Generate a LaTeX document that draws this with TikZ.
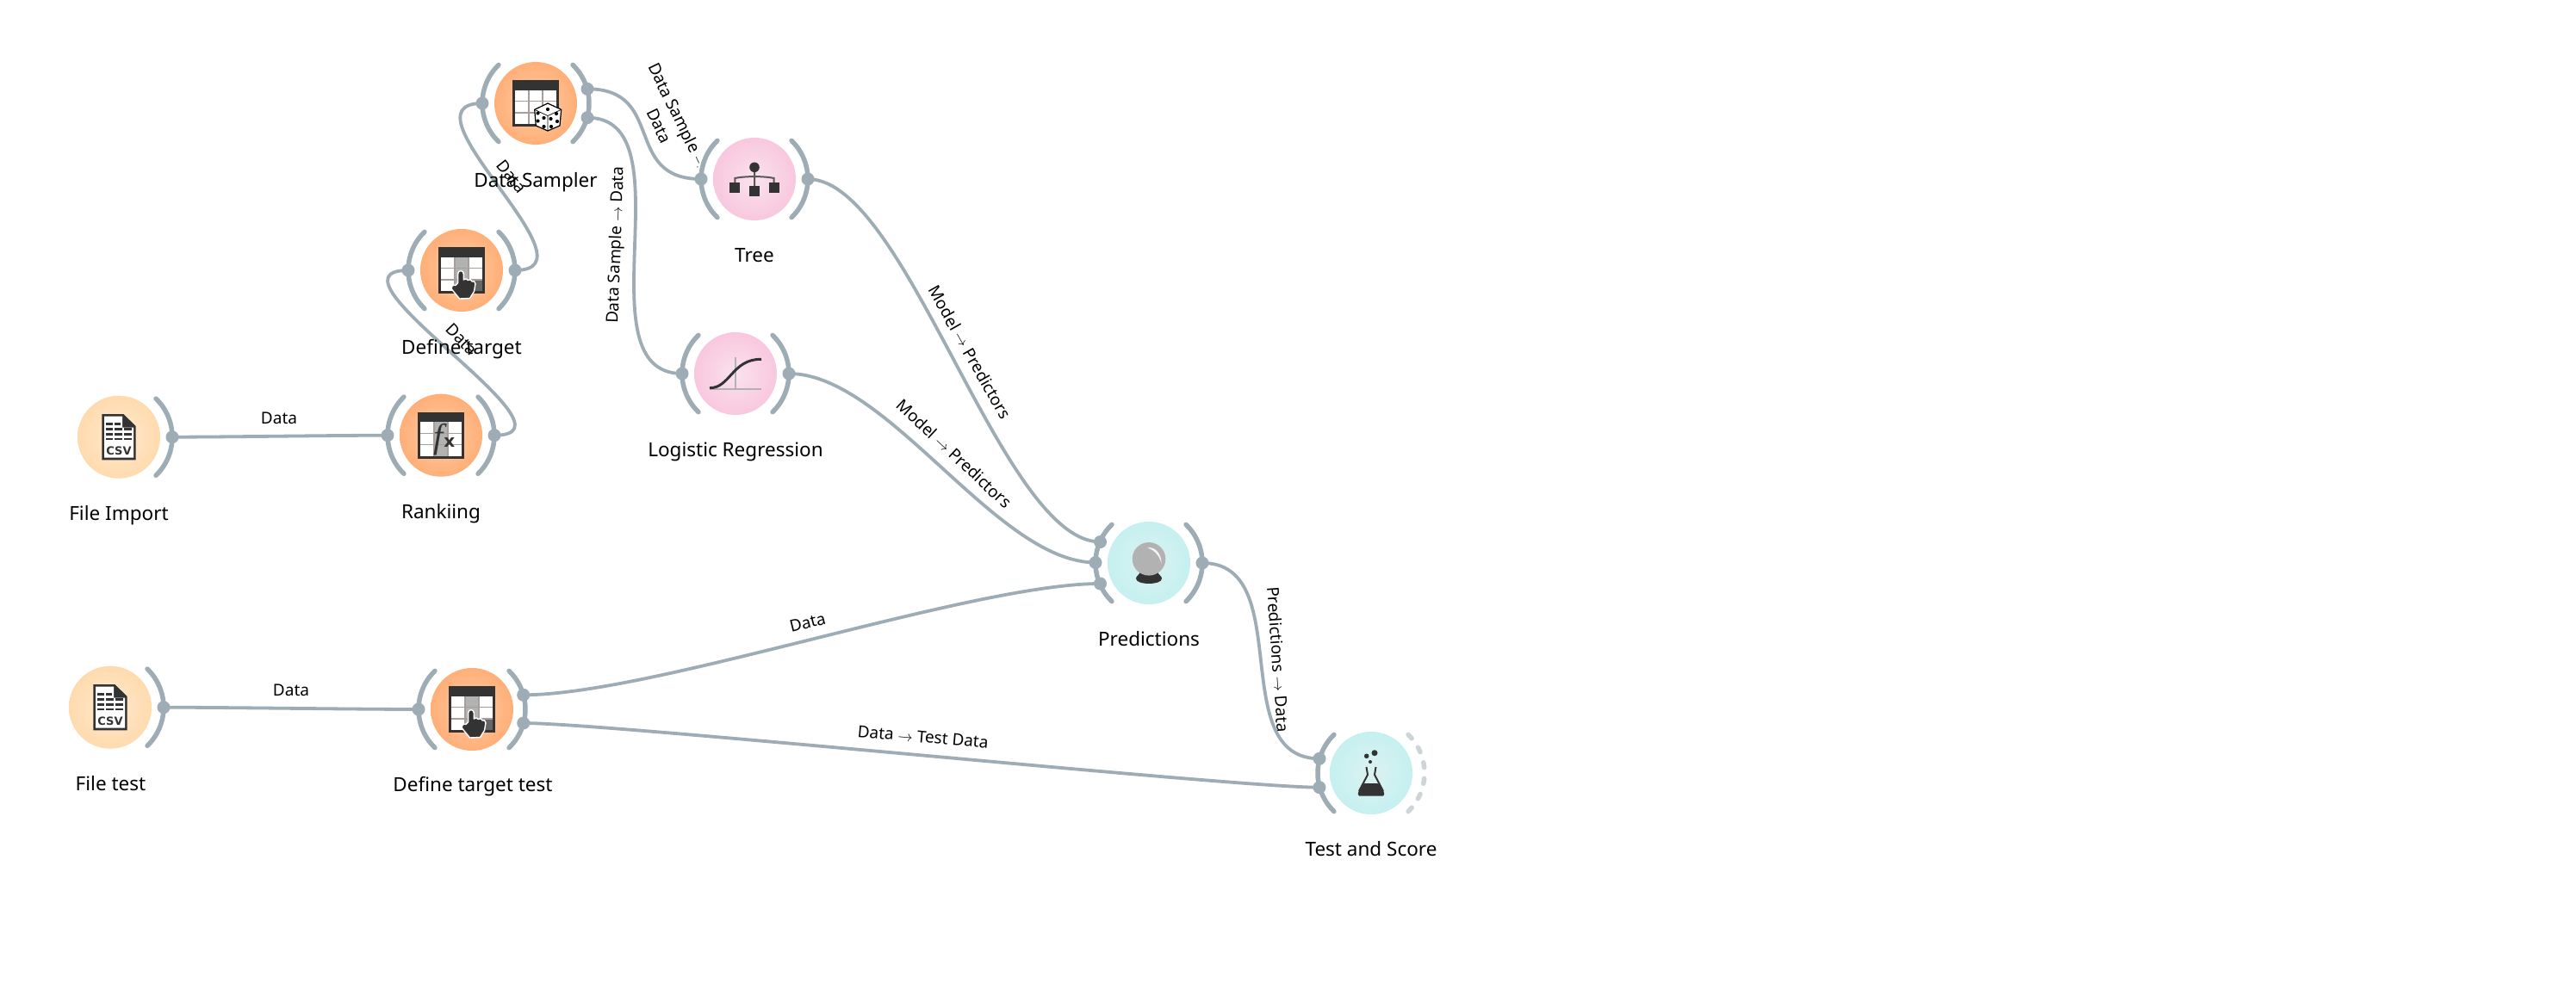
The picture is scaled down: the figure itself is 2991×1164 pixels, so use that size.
\documentclass[tikz,border=0pt]{standalone}
\usepackage{fontspec}
\setmainfont{Noto Sans}
\newfontfamily\fserif{Liberation Serif}
\newfontfamily\bsans{DejaVu Sans}
\usetikzlibrary{calc}
\definecolor{linkc}{HTML}{9EADB5}
\definecolor{dashc}{HTML}{CED5D9}
\definecolor{icondark}{HTML}{333333}
\definecolor{grayc}{HTML}{B2B2B2}
\definecolor{gridc}{HTML}{A89D98}
\definecolor{oc}{RGB}{255,204,165}\definecolor{oe}{RGB}{255,160,96}
\definecolor{lc}{RGB}{255,234,208}\definecolor{le}{RGB}{255,210,156}
\definecolor{pc}{RGB}{250,226,237}\definecolor{pe}{RGB}{248,186,214}
\definecolor{tc}{RGB}{220,241,241}\definecolor{te}{RGB}{186,240,240}
\pgfdeclareradialshading{orangeglow}{\pgfpointorigin}{color(0bp)=(oc);color(38bp)=(oe);color(50bp)=(oe)}
\pgfdeclareradialshading{lightglow}{\pgfpointorigin}{color(0bp)=(lc);color(38bp)=(le);color(50bp)=(le)}
\pgfdeclareradialshading{pinkglow}{\pgfpointorigin}{color(0bp)=(pc);color(38bp)=(pe);color(50bp)=(pe)}
\pgfdeclareradialshading{tealglow}{\pgfpointorigin}{color(0bp)=(tc);color(38bp)=(te);color(50bp)=(te)}
\tikzset{
  disc/.style={circle,minimum size=96pt,inner sep=0pt,outer sep=0pt,shade,shading=#1},
  arcline/.style={draw=linkc,line width=5.5pt,line cap=round},
  dashline/.style={draw=dashc,line width=5.5pt,line cap=round,dash pattern=on 6pt off 12.7pt},
  dot/.style={circle,fill=linkc,minimum size=15pt,inner sep=0pt,outer sep=0pt},
  link/.style={draw=linkc,line width=3.8pt},
  wlabel/.style={font=\fontsize{22.5}{27}\selectfont,inner sep=0pt,text=black},
  llabel/.style={font=\fontsize{19}{25}\selectfont,inner sep=0pt,text=black,align=center},
}
% icons, drawn around the centre of a disc
\newcommand{\tablebase}[1]{%
  \fill[icondark] (-27,-27) rectangle (27,27);
  \fill[white] (-24,-15.5) rectangle (24,24);
  #1
  \draw[gridc,line width=1.2pt] (-8,-15.5) -- (-8,24) (8,-15.5) -- (8,24)
     (-24,-2.3) -- (24,-2.3) (-24,11) -- (24,11);
}
\newcommand{\handicon}{%
  \draw[white,fill=icondark,line width=1.4pt,line join=round]
   (-4.3,14.5) -- (-4.3,4) .. controls (-4.3,-0.5) and (2.3,-0.5) .. (2.3,4)
   -- (2.3,11) .. controls (4,9.5) and (6.5,9.5) .. (7.3,11.5)
   .. controls (9,10) and (11.5,10.5) .. (12,12.8)
   .. controls (13.5,12) and (16,13) .. (16,15.5)
   -- (14.5,24.5) -- (9.5,32.5) -- (-2.5,33) -- (-11.5,22)
   .. controls (-12.5,19) and (-10,16) .. (-7,17.5) -- cycle;
}
\newcommand{\targeticon}{%
  \tablebase{\fill[grayc] (-8,-15.5) rectangle (8,24); \fill[black!60] (8,11) rectangle (24,24);}
  \handicon
}
\newcommand{\diceicon}{%
  \tablebase{}
  \draw[black,fill=white,line width=1.2pt,line join=round]
    (14,0) -- (29.7,7.3) -- (28,26) -- (14,32) -- (0.3,26) -- (-1.3,7.3) -- cycle;
  \draw[black,line width=.7pt] (-1.3,7.3) -- (14,14.5) -- (29.7,7.3) (14,14.5) -- (14,32);
  \foreach \p in {(14,7),(2.5,11.5),(9.5,17),(2.5,20.5),(9.5,27),(24,12),(17.5,18),(25,21),(18,27)}
    \fill[black] \p circle (2.1);
}
\newcommand{\fxicon}{%
  \tablebase{\fill[grayc] (-8,-15.5) rectangle (8,24);}
  \node[inner sep=0pt,text=icondark,font=\fserif\itshape\fontsize{40}{40}\selectfont] (fxf) at (-2.5,5) {f};
  \node[inner sep=0pt,text=icondark,font=\bsans\bfseries\fontsize{20}{20}\selectfont] (fxx) at (9.8,8.5) {x};
}
\newcommand{\csvicon}{%
  \fill[icondark] (-19.7,-26.7) -- (5.3,-26.7) -- (19.7,-12.7) -- (19.7,26.7) -- (-19.7,26.7) -- cycle;
  \fill[white] (-17,-24) -- (4,-24) -- (4,-11) -- (17,-11) -- (17,24) -- (-17,24) -- cycle;
  \foreach \yy in {-9.3,-3.3,2.3}{
    \fill[icondark] (-14.7,\yy-1.4) rectangle (-7.3,\yy+1.4);
    \fill[icondark] (-4.7,\yy-1.4) rectangle (3.7,\yy+1.4);
    \fill[icondark] (6.3,\yy-1.4) rectangle (14.7,\yy+1.4);
  }
  \fill[icondark] (-14.7,-16.4) rectangle (-7.3,-13.6);
  \fill[icondark] (-4.7,-16.4) rectangle (2,-13.6);
  \node[inner sep=0pt,text=icondark,font=\bsans\bfseries\fontsize{13}{13}\selectfont] (csvt) at (0,15.7) {CSV};
}
\newcommand{\treeicon}{%
  \draw[black!65,line width=2pt] (0,-10) -- (0,10) (-22.7,6) -- (-22.7,-1) .. controls (-12,-3.5) and (12,-3.5) .. (22.7,-1) -- (22.7,6);
  \fill[icondark] (0,-13.7) circle (5.8);
  \fill[icondark] (-28.7,4.3) rectangle (-16.7,16.3);
  \fill[icondark] (-6,8) rectangle (6,19.5);
  \fill[icondark] (16.7,4.3) rectangle (28.7,16.3);
}
\newcommand{\logisticicon}{%
  \draw[grayc,line width=2.6pt] (0,-19) -- (0,18) (-30,18) -- (30,18);
  \draw[icondark,line width=3pt] (-30,16.7) .. controls (-6,16.7) and (-4,-17) .. (30,-16.7);
}
\newcommand{\ballicon}{%
  \fill[icondark] (-15,18) .. controls (-15,15) and (-11,14) .. (-10,10) -- (10,10)
     .. controls (11,14) and (15,15) .. (15,18) .. controls (15,26) and (-15,26) .. (-15,18) -- cycle;
  \fill[grayc] (0,-4.7) circle (19.3);
  \fill[white,opacity=.85] (-2,-18) .. controls (8,-19) and (15,-10) .. (14.5,1) .. controls (13,-7) and (8,-14) .. cycle;
}
\newcommand{\flaskicon}{%
  \fill[icondark] (4,-23.3) circle (3.5);
  \fill[icondark] (-5.3,-19.7) circle (2.8);
  \fill[icondark] (-1,-13) circle (2);
  \draw[icondark,line width=2pt,line join=round] (-5.5,-7) -- (-4,2) -- (-14,21) (5.5,-7) -- (4,2) -- (14,21);
  \fill[icondark,rounded corners=1.5pt] (-15.3,26.5) -- (-15,22) -- (-9,12) -- (9,12) -- (15,22) -- (15.3,26.5) -- cycle;
}
\newcommand{\widget}[4]{% name, x, y, shading
  \node[disc=#4] (#1) at (#2,#3) {};
}
\newcommand{\leftarc}[1]{\draw[arcline] ($(#1)+(134:62)$) arc (134:226:62);}
\newcommand{\rightarc}[1]{\draw[arcline] ($(#1)+(46:62)$) arc (46:-46:62);}
\begin{document}
\begin{tikzpicture}[x=1pt,y=-1pt]
\useasboundingbox (0,0) rectangle (2991,1164);
\fill[white] (0,0) rectangle (2991,1164);
% link labels
\node[llabel] (l1) at (324,486) {Data};
\node[llabel] (l2) at (338,802.3) {Data};
\node[llabel,rotate=14] (l3) at (937.7,723.3) {Data};
\node[llabel,rotate=-5] (l4) at (1071.7,856) {Data $\rightarrow$ Test Data};
\node[llabel,rotate=-86] (l5) at (1484.3,766) {Predictions $\rightarrow$ Data};
\node[llabel,rotate=88] (l6) at (716,284.7) {Data Sample $\rightarrow$ Data};
\node[llabel,rotate=-64] (l7) at (777,140.5) {Data Sample $\rightarrow$\\Data};
\node[llabel,rotate=-52] (l8) at (594,205) {Data};
\node[llabel,rotate=-46] (l9) at (536,394) {Data};
\node[llabel,rotate=-60.5] (l10) at (1126,409) {Model $\rightarrow$ Predictors};
\node[llabel,rotate=-43] (l11) at (1108,527) {Model $\rightarrow$ Predictors};
% clearance round the Tree widget
\fill[white] (876,208) circle (67);
% discs
\widget{fimp}{138}{507.7}{lightglow}
\widget{rank}{512}{505.7}{orangeglow}
\widget{dtar}{536}{314}{orangeglow}
\widget{samp}{622}{120}{orangeglow}
\widget{tree}{876}{208}{pinkglow}
\widget{logr}{854}{434}{pinkglow}
\widget{ftst}{128}{821.7}{lightglow}
\widget{dtst}{548}{824}{orangeglow}
\widget{pred}{1334}{654}{tealglow}
\widget{tscr}{1592}{898}{tealglow}
% channel arcs
\rightarc{fimp}
\leftarc{rank}\rightarc{rank}
\leftarc{dtar}\rightarc{dtar}
\leftarc{samp}\rightarc{samp}
\leftarc{tree}\rightarc{tree}
\leftarc{logr}\rightarc{logr}
\rightarc{ftst}
\leftarc{dtst}\rightarc{dtst}
\leftarc{pred}\rightarc{pred}
\leftarc{tscr}
\draw[dashline] ($(tscr)+(46:62)$) arc (46:-46:62);
% anchors
\node[dot] (fimpR) at (200,507.7) {};
\node[dot] (rankL) at (450,505.7) {};
\node[dot] (rankR) at (574,505.7) {};
\node[dot] (dtarL) at (474,314) {};
\node[dot] (dtarR) at (598,314) {};
\node[dot] (sampL) at (560,120) {};
\node[dot] (sampR1) at (682,103.3) {};
\node[dot] (sampR2) at (682,136.7) {};
\node[dot] (treeL) at (814,208) {};
\node[dot] (treeR) at (938,208) {};
\node[dot] (logrL) at (792,434) {};
\node[dot] (logrR) at (916,434) {};
\node[dot] (ftstR) at (190,821.7) {};
\node[dot] (dtstL) at (486,824) {};
\node[dot] (dtstR1) at (607.7,807.3) {};
\node[dot] (dtstR2) at (607.7,840) {};
\node[dot] (predL1) at (1277.5,629.5) {};
\node[dot] (predL2) at (1272,653.5) {};
\node[dot] (predL3) at (1277.5,678) {};
\node[dot] (predR) at (1396,654) {};
\node[dot] (tscrL1) at (1532,881.3) {};
\node[dot] (tscrL2) at (1532,914.7) {};
% links
\draw[link] (fimpR.center) .. controls +(60,0) and +(-60,0) .. (rankL.center);
\draw[link] (rankR.center) .. controls +(112,0) and +(-112,0) .. (dtarL.center);
\draw[link] (dtarR.center) .. controls +(102,0) and +(-102,0) .. (sampL.center);
\draw[link] (sampR1.center) .. controls +(92,0) and +(-92,0) .. (treeL.center);
\draw[link] (sampR2.center) .. controls +(120,0) and +(-120,0) .. (logrL.center);
\draw[link] (treeR.center) .. controls +(115,0) and +(-115,0) .. (predL1.center);
\draw[link] (logrR.center) .. controls +(115,0) and +(-115,0) .. (predL2.center);
\draw[link] (ftstR.center) .. controls +(70,0) and +(-70,0) .. (dtstL.center);
\draw[link] (dtstR1.center) .. controls +(150,0) and +(-150,0) .. (predL3.center);
\draw[link] (dtstR2.center) .. controls +(100,0) and +(-100,0) .. (tscrL2.center);
\draw[link] (predR.center) .. controls +(110,0) and +(-110,0) .. (tscrL1.center);
% icons
\begin{scope}[shift={(138,507.7)}]\csvicon\end{scope}
\begin{scope}[shift={(128,821.7)}]\csvicon\end{scope}
\begin{scope}[shift={(512,505.7)}]\fxicon\end{scope}
\begin{scope}[shift={(536,314)}]\targeticon\end{scope}
\begin{scope}[shift={(548,824)}]\targeticon\end{scope}
\begin{scope}[shift={(622,120)}]\diceicon\end{scope}
\begin{scope}[shift={(876,208)}]\treeicon\end{scope}
\begin{scope}[shift={(854,434)}]\logisticicon\end{scope}
\begin{scope}[shift={(1334,654)}]\ballicon\end{scope}
\begin{scope}[shift={(1592,898)}]\flaskicon\end{scope}
% captions
\node[wlabel] (t1) at (138,599) {File Import};
\node[wlabel] (t2) at (512,597) {Rankiing};
\node[wlabel] (t3) at (128.5,910) {File test};
\node[wlabel] (t4) at (549,914) {Define target test};
\node[wlabel] (t5) at (622,212) {Data Sampler};
\node[wlabel] (t6) at (536,406) {Define target};
\node[wlabel] (t7) at (876,297) {Tree};
\node[wlabel] (t8) at (854,525) {Logistic Regression};
\node[wlabel] (t9) at (1334,742) {Predictions};
\node[wlabel] (t10) at (1592,986) {Test and Score};
\end{tikzpicture}
\end{document}
